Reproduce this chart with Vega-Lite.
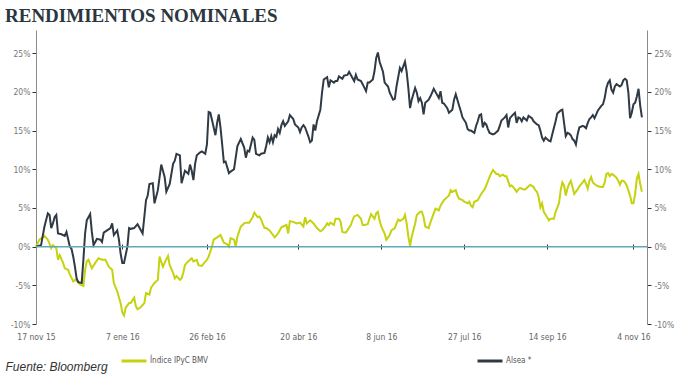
{
"$schema": "https://vega.github.io/schema/vega-lite/v6.json",
"width": 611, "height": 294,
"autosize": "none",
"padding": {"left": 36, "top": 30, "right": 30, "bottom": 51},
"background": "white",
"config": {"view": {"stroke": null}, "font": "Liberation Sans"},
"title": {"text": "RENDIMIENTOS NOMINALES", "anchor": "start", "frame": "group", "font": "Liberation Serif", "fontSize": 19, "fontWeight": "bold", "color": "#2b3640", "dx": -31, "dy": 19, "offset": 8, "baseline": "alphabetic"},
"layer": [
{
"data": {"values": [
{"fecha":"2015-11-17","serie":"Índice IPyC BMV","valor":0.0},
{"fecha":"2015-11-19","serie":"Índice IPyC BMV","valor":0.9},
{"fecha":"2015-11-22","serie":"Índice IPyC BMV","valor":1.4},
{"fecha":"2015-11-24","serie":"Índice IPyC BMV","valor":0.9},
{"fecha":"2015-11-26","serie":"Índice IPyC BMV","valor":-0.2},
{"fecha":"2015-11-27","serie":"Índice IPyC BMV","valor":0.2},
{"fecha":"2015-11-29","serie":"Índice IPyC BMV","valor":-0.2},
{"fecha":"2015-11-30","serie":"Índice IPyC BMV","valor":-1.7},
{"fecha":"2015-12-01","serie":"Índice IPyC BMV","valor":-1.1},
{"fecha":"2015-12-03","serie":"Índice IPyC BMV","valor":-2.1},
{"fecha":"2015-12-04","serie":"Índice IPyC BMV","valor":-2.8},
{"fecha":"2015-12-06","serie":"Índice IPyC BMV","valor":-3.0},
{"fecha":"2015-12-07","serie":"Índice IPyC BMV","valor":-3.6},
{"fecha":"2015-12-09","serie":"Índice IPyC BMV","valor":-4.5},
{"fecha":"2015-12-10","serie":"Índice IPyC BMV","valor":-4.3},
{"fecha":"2015-12-11","serie":"Índice IPyC BMV","valor":-4.4},
{"fecha":"2015-12-13","serie":"Índice IPyC BMV","valor":-4.9},
{"fecha":"2015-12-15","serie":"Índice IPyC BMV","valor":-5.1},
{"fecha":"2015-12-16","serie":"Índice IPyC BMV","valor":-3.0},
{"fecha":"2015-12-17","serie":"Índice IPyC BMV","valor":-1.9},
{"fecha":"2015-12-18","serie":"Índice IPyC BMV","valor":-1.7},
{"fecha":"2015-12-20","serie":"Índice IPyC BMV","valor":-2.8},
{"fecha":"2015-12-22","serie":"Índice IPyC BMV","valor":-2.1},
{"fecha":"2015-12-24","serie":"Índice IPyC BMV","valor":-1.5},
{"fecha":"2015-12-26","serie":"Índice IPyC BMV","valor":-1.7},
{"fecha":"2015-12-28","serie":"Índice IPyC BMV","valor":-1.7},
{"fecha":"2015-12-30","serie":"Índice IPyC BMV","valor":-2.6},
{"fecha":"2016-01-01","serie":"Índice IPyC BMV","valor":-3.0},
{"fecha":"2016-01-02","serie":"Índice IPyC BMV","valor":-4.7},
{"fecha":"2016-01-04","serie":"Índice IPyC BMV","valor":-5.8},
{"fecha":"2016-01-06","serie":"Índice IPyC BMV","valor":-7.3},
{"fecha":"2016-01-07","serie":"Índice IPyC BMV","valor":-8.5},
{"fecha":"2016-01-08","serie":"Índice IPyC BMV","valor":-8.9},
{"fecha":"2016-01-09","serie":"Índice IPyC BMV","valor":-7.9},
{"fecha":"2016-01-11","serie":"Índice IPyC BMV","valor":-7.3},
{"fecha":"2016-01-12","serie":"Índice IPyC BMV","valor":-7.3},
{"fecha":"2016-01-14","serie":"Índice IPyC BMV","valor":-6.6},
{"fecha":"2016-01-15","serie":"Índice IPyC BMV","valor":-7.7},
{"fecha":"2016-01-16","serie":"Índice IPyC BMV","valor":-8.1},
{"fecha":"2016-01-18","serie":"Índice IPyC BMV","valor":-7.8},
{"fecha":"2016-01-20","serie":"Índice IPyC BMV","valor":-7.3},
{"fecha":"2016-01-21","serie":"Índice IPyC BMV","valor":-6.0},
{"fecha":"2016-01-23","serie":"Índice IPyC BMV","valor":-6.2},
{"fecha":"2016-01-24","serie":"Índice IPyC BMV","valor":-5.3},
{"fecha":"2016-01-26","serie":"Índice IPyC BMV","valor":-4.7},
{"fecha":"2016-01-28","serie":"Índice IPyC BMV","valor":-4.3},
{"fecha":"2016-01-29","serie":"Índice IPyC BMV","valor":-1.3},
{"fecha":"2016-01-31","serie":"Índice IPyC BMV","valor":-2.6},
{"fecha":"2016-02-01","serie":"Índice IPyC BMV","valor":-2.1},
{"fecha":"2016-02-03","serie":"Índice IPyC BMV","valor":-1.2},
{"fecha":"2016-02-04","serie":"Índice IPyC BMV","valor":-2.4},
{"fecha":"2016-02-06","serie":"Índice IPyC BMV","valor":-3.4},
{"fecha":"2016-02-07","serie":"Índice IPyC BMV","valor":-4.1},
{"fecha":"2016-02-08","serie":"Índice IPyC BMV","valor":-3.8},
{"fecha":"2016-02-10","serie":"Índice IPyC BMV","valor":-4.3},
{"fecha":"2016-02-11","serie":"Índice IPyC BMV","valor":-4.1},
{"fecha":"2016-02-12","serie":"Índice IPyC BMV","valor":-3.4},
{"fecha":"2016-02-13","serie":"Índice IPyC BMV","valor":-2.4},
{"fecha":"2016-02-14","serie":"Índice IPyC BMV","valor":-2.1},
{"fecha":"2016-02-16","serie":"Índice IPyC BMV","valor":-1.7},
{"fecha":"2016-02-17","serie":"Índice IPyC BMV","valor":-1.5},
{"fecha":"2016-02-18","serie":"Índice IPyC BMV","valor":-1.9},
{"fecha":"2016-02-20","serie":"Índice IPyC BMV","valor":-1.7},
{"fecha":"2016-02-21","serie":"Índice IPyC BMV","valor":-2.4},
{"fecha":"2016-02-23","serie":"Índice IPyC BMV","valor":-2.5},
{"fecha":"2016-02-24","serie":"Índice IPyC BMV","valor":-2.2},
{"fecha":"2016-02-26","serie":"Índice IPyC BMV","valor":-1.7},
{"fecha":"2016-02-27","serie":"Índice IPyC BMV","valor":-1.3},
{"fecha":"2016-02-29","serie":"Índice IPyC BMV","valor":0.0},
{"fecha":"2016-03-01","serie":"Índice IPyC BMV","valor":0.9},
{"fecha":"2016-03-03","serie":"Índice IPyC BMV","valor":1.2},
{"fecha":"2016-03-05","serie":"Índice IPyC BMV","valor":1.5},
{"fecha":"2016-03-07","serie":"Índice IPyC BMV","valor":0.5},
{"fecha":"2016-03-09","serie":"Índice IPyC BMV","valor":0.3},
{"fecha":"2016-03-10","serie":"Índice IPyC BMV","valor":0.0},
{"fecha":"2016-03-11","serie":"Índice IPyC BMV","valor":1.1},
{"fecha":"2016-03-13","serie":"Índice IPyC BMV","valor":0.9},
{"fecha":"2016-03-14","serie":"Índice IPyC BMV","valor":0.0},
{"fecha":"2016-03-15","serie":"Índice IPyC BMV","valor":1.3},
{"fecha":"2016-03-17","serie":"Índice IPyC BMV","valor":2.6},
{"fecha":"2016-03-19","serie":"Índice IPyC BMV","valor":3.0},
{"fecha":"2016-03-20","serie":"Índice IPyC BMV","valor":3.1},
{"fecha":"2016-03-22","serie":"Índice IPyC BMV","valor":3.1},
{"fecha":"2016-03-24","serie":"Índice IPyC BMV","valor":3.8},
{"fecha":"2016-03-25","serie":"Índice IPyC BMV","valor":4.4},
{"fecha":"2016-03-27","serie":"Índice IPyC BMV","valor":3.8},
{"fecha":"2016-03-28","serie":"Índice IPyC BMV","valor":3.9},
{"fecha":"2016-03-29","serie":"Índice IPyC BMV","valor":3.5},
{"fecha":"2016-03-31","serie":"Índice IPyC BMV","valor":2.4},
{"fecha":"2016-04-01","serie":"Índice IPyC BMV","valor":2.4},
{"fecha":"2016-04-03","serie":"Índice IPyC BMV","valor":2.1},
{"fecha":"2016-04-05","serie":"Índice IPyC BMV","valor":1.5},
{"fecha":"2016-04-06","serie":"Índice IPyC BMV","valor":1.2},
{"fecha":"2016-04-08","serie":"Índice IPyC BMV","valor":1.7},
{"fecha":"2016-04-10","serie":"Índice IPyC BMV","valor":2.5},
{"fecha":"2016-04-11","serie":"Índice IPyC BMV","valor":2.6},
{"fecha":"2016-04-13","serie":"Índice IPyC BMV","valor":2.8},
{"fecha":"2016-04-14","serie":"Índice IPyC BMV","valor":1.7},
{"fecha":"2016-04-15","serie":"Índice IPyC BMV","valor":3.3},
{"fecha":"2016-04-17","serie":"Índice IPyC BMV","valor":3.2},
{"fecha":"2016-04-19","serie":"Índice IPyC BMV","valor":3.0},
{"fecha":"2016-04-21","serie":"Índice IPyC BMV","valor":3.1},
{"fecha":"2016-04-23","serie":"Índice IPyC BMV","valor":2.6},
{"fecha":"2016-04-24","serie":"Índice IPyC BMV","valor":3.8},
{"fecha":"2016-04-25","serie":"Índice IPyC BMV","valor":3.0},
{"fecha":"2016-04-26","serie":"Índice IPyC BMV","valor":3.2},
{"fecha":"2016-04-27","serie":"Índice IPyC BMV","valor":3.4},
{"fecha":"2016-04-29","serie":"Índice IPyC BMV","valor":3.0},
{"fecha":"2016-05-01","serie":"Índice IPyC BMV","valor":2.4},
{"fecha":"2016-05-03","serie":"Índice IPyC BMV","valor":2.0},
{"fecha":"2016-05-04","serie":"Índice IPyC BMV","valor":2.1},
{"fecha":"2016-05-06","serie":"Índice IPyC BMV","valor":2.6},
{"fecha":"2016-05-07","serie":"Índice IPyC BMV","valor":3.0},
{"fecha":"2016-05-08","serie":"Índice IPyC BMV","valor":2.8},
{"fecha":"2016-05-09","serie":"Índice IPyC BMV","valor":3.1},
{"fecha":"2016-05-11","serie":"Índice IPyC BMV","valor":2.8},
{"fecha":"2016-05-12","serie":"Índice IPyC BMV","valor":3.6},
{"fecha":"2016-05-14","serie":"Índice IPyC BMV","valor":3.6},
{"fecha":"2016-05-15","serie":"Índice IPyC BMV","valor":3.2},
{"fecha":"2016-05-16","serie":"Índice IPyC BMV","valor":1.9},
{"fecha":"2016-05-18","serie":"Índice IPyC BMV","valor":1.8},
{"fecha":"2016-05-19","serie":"Índice IPyC BMV","valor":2.1},
{"fecha":"2016-05-21","serie":"Índice IPyC BMV","valor":2.8},
{"fecha":"2016-05-22","serie":"Índice IPyC BMV","valor":3.4},
{"fecha":"2016-05-23","serie":"Índice IPyC BMV","valor":3.9},
{"fecha":"2016-05-25","serie":"Índice IPyC BMV","valor":4.1},
{"fecha":"2016-05-27","serie":"Índice IPyC BMV","valor":3.6},
{"fecha":"2016-05-28","serie":"Índice IPyC BMV","valor":2.8},
{"fecha":"2016-05-29","serie":"Índice IPyC BMV","valor":2.8},
{"fecha":"2016-05-31","serie":"Índice IPyC BMV","valor":2.9},
{"fecha":"2016-06-01","serie":"Índice IPyC BMV","valor":3.6},
{"fecha":"2016-06-02","serie":"Índice IPyC BMV","valor":4.2},
{"fecha":"2016-06-04","serie":"Índice IPyC BMV","valor":3.6},
{"fecha":"2016-06-05","serie":"Índice IPyC BMV","valor":4.3},
{"fecha":"2016-06-06","serie":"Índice IPyC BMV","valor":4.5},
{"fecha":"2016-06-07","serie":"Índice IPyC BMV","valor":3.4},
{"fecha":"2016-06-08","serie":"Índice IPyC BMV","valor":2.6},
{"fecha":"2016-06-10","serie":"Índice IPyC BMV","valor":1.7},
{"fecha":"2016-06-11","serie":"Índice IPyC BMV","valor":0.9},
{"fecha":"2016-06-13","serie":"Índice IPyC BMV","valor":1.5},
{"fecha":"2016-06-14","serie":"Índice IPyC BMV","valor":2.1},
{"fecha":"2016-06-16","serie":"Índice IPyC BMV","valor":2.4},
{"fecha":"2016-06-17","serie":"Índice IPyC BMV","valor":3.0},
{"fecha":"2016-06-18","serie":"Índice IPyC BMV","valor":3.5},
{"fecha":"2016-06-19","serie":"Índice IPyC BMV","valor":3.3},
{"fecha":"2016-06-21","serie":"Índice IPyC BMV","valor":3.6},
{"fecha":"2016-06-22","serie":"Índice IPyC BMV","valor":4.1},
{"fecha":"2016-06-23","serie":"Índice IPyC BMV","valor":3.0},
{"fecha":"2016-06-24","serie":"Índice IPyC BMV","valor":1.3},
{"fecha":"2016-06-25","serie":"Índice IPyC BMV","valor":0.1},
{"fecha":"2016-06-26","serie":"Índice IPyC BMV","valor":1.3},
{"fecha":"2016-06-28","serie":"Índice IPyC BMV","valor":3.0},
{"fecha":"2016-06-29","serie":"Índice IPyC BMV","valor":4.1},
{"fecha":"2016-07-01","serie":"Índice IPyC BMV","valor":4.5},
{"fecha":"2016-07-02","serie":"Índice IPyC BMV","valor":4.5},
{"fecha":"2016-07-03","serie":"Índice IPyC BMV","valor":3.8},
{"fecha":"2016-07-04","serie":"Índice IPyC BMV","valor":2.6},
{"fecha":"2016-07-06","serie":"Índice IPyC BMV","valor":2.4},
{"fecha":"2016-07-07","serie":"Índice IPyC BMV","valor":3.1},
{"fecha":"2016-07-09","serie":"Índice IPyC BMV","valor":4.3},
{"fecha":"2016-07-10","serie":"Índice IPyC BMV","valor":4.9},
{"fecha":"2016-07-12","serie":"Índice IPyC BMV","valor":4.7},
{"fecha":"2016-07-13","serie":"Índice IPyC BMV","valor":5.3},
{"fecha":"2016-07-15","serie":"Índice IPyC BMV","valor":6.0},
{"fecha":"2016-07-17","serie":"Índice IPyC BMV","valor":6.4},
{"fecha":"2016-07-18","serie":"Índice IPyC BMV","valor":6.6},
{"fecha":"2016-07-19","serie":"Índice IPyC BMV","valor":7.3},
{"fecha":"2016-07-20","serie":"Índice IPyC BMV","valor":7.1},
{"fecha":"2016-07-22","serie":"Índice IPyC BMV","valor":7.3},
{"fecha":"2016-07-23","serie":"Índice IPyC BMV","valor":6.6},
{"fecha":"2016-07-24","serie":"Índice IPyC BMV","valor":6.2},
{"fecha":"2016-07-26","serie":"Índice IPyC BMV","valor":6.0},
{"fecha":"2016-07-27","serie":"Índice IPyC BMV","valor":5.8},
{"fecha":"2016-07-29","serie":"Índice IPyC BMV","valor":5.6},
{"fecha":"2016-07-30","serie":"Índice IPyC BMV","valor":5.8},
{"fecha":"2016-07-31","serie":"Índice IPyC BMV","valor":5.3},
{"fecha":"2016-08-01","serie":"Índice IPyC BMV","valor":5.1},
{"fecha":"2016-08-02","serie":"Índice IPyC BMV","valor":5.8},
{"fecha":"2016-08-04","serie":"Índice IPyC BMV","valor":6.0},
{"fecha":"2016-08-05","serie":"Índice IPyC BMV","valor":6.4},
{"fecha":"2016-08-06","serie":"Índice IPyC BMV","valor":6.8},
{"fecha":"2016-08-08","serie":"Índice IPyC BMV","valor":7.4},
{"fecha":"2016-08-09","serie":"Índice IPyC BMV","valor":7.9},
{"fecha":"2016-08-11","serie":"Índice IPyC BMV","valor":9.0},
{"fecha":"2016-08-12","serie":"Índice IPyC BMV","valor":9.5},
{"fecha":"2016-08-13","serie":"Índice IPyC BMV","valor":9.9},
{"fecha":"2016-08-15","serie":"Índice IPyC BMV","valor":9.4},
{"fecha":"2016-08-16","serie":"Índice IPyC BMV","valor":9.4},
{"fecha":"2016-08-17","serie":"Índice IPyC BMV","valor":9.1},
{"fecha":"2016-08-19","serie":"Índice IPyC BMV","valor":9.3},
{"fecha":"2016-08-20","serie":"Índice IPyC BMV","valor":9.1},
{"fecha":"2016-08-21","serie":"Índice IPyC BMV","valor":9.1},
{"fecha":"2016-08-23","serie":"Índice IPyC BMV","valor":7.8},
{"fecha":"2016-08-24","serie":"Índice IPyC BMV","valor":7.9},
{"fecha":"2016-08-25","serie":"Índice IPyC BMV","valor":7.7},
{"fecha":"2016-08-27","serie":"Índice IPyC BMV","valor":7.1},
{"fecha":"2016-08-28","serie":"Índice IPyC BMV","valor":7.4},
{"fecha":"2016-08-29","serie":"Índice IPyC BMV","valor":7.6},
{"fecha":"2016-08-31","serie":"Índice IPyC BMV","valor":7.4},
{"fecha":"2016-09-01","serie":"Índice IPyC BMV","valor":7.4},
{"fecha":"2016-09-03","serie":"Índice IPyC BMV","valor":7.8},
{"fecha":"2016-09-04","serie":"Índice IPyC BMV","valor":8.0},
{"fecha":"2016-09-06","serie":"Índice IPyC BMV","valor":7.7},
{"fecha":"2016-09-07","serie":"Índice IPyC BMV","valor":7.3},
{"fecha":"2016-09-08","serie":"Índice IPyC BMV","valor":7.1},
{"fecha":"2016-09-09","serie":"Índice IPyC BMV","valor":6.4},
{"fecha":"2016-09-10","serie":"Índice IPyC BMV","valor":5.1},
{"fecha":"2016-09-11","serie":"Índice IPyC BMV","valor":5.6},
{"fecha":"2016-09-12","serie":"Índice IPyC BMV","valor":4.5},
{"fecha":"2016-09-14","serie":"Índice IPyC BMV","valor":3.8},
{"fecha":"2016-09-15","serie":"Índice IPyC BMV","valor":3.4},
{"fecha":"2016-09-16","serie":"Índice IPyC BMV","valor":3.6},
{"fecha":"2016-09-18","serie":"Índice IPyC BMV","valor":3.6},
{"fecha":"2016-09-19","serie":"Índice IPyC BMV","valor":4.5},
{"fecha":"2016-09-21","serie":"Índice IPyC BMV","valor":5.6},
{"fecha":"2016-09-22","serie":"Índice IPyC BMV","valor":7.3},
{"fecha":"2016-09-23","serie":"Índice IPyC BMV","valor":8.3},
{"fecha":"2016-09-24","serie":"Índice IPyC BMV","valor":7.9},
{"fecha":"2016-09-25","serie":"Índice IPyC BMV","valor":6.6},
{"fecha":"2016-09-26","serie":"Índice IPyC BMV","valor":7.5},
{"fecha":"2016-09-27","serie":"Índice IPyC BMV","valor":8.1},
{"fecha":"2016-09-28","serie":"Índice IPyC BMV","valor":8.5},
{"fecha":"2016-09-29","serie":"Índice IPyC BMV","valor":7.7},
{"fecha":"2016-09-30","serie":"Índice IPyC BMV","valor":6.8},
{"fecha":"2016-10-02","serie":"Índice IPyC BMV","valor":7.4},
{"fecha":"2016-10-03","serie":"Índice IPyC BMV","valor":7.8},
{"fecha":"2016-10-05","serie":"Índice IPyC BMV","valor":8.3},
{"fecha":"2016-10-06","serie":"Índice IPyC BMV","valor":8.6},
{"fecha":"2016-10-07","serie":"Índice IPyC BMV","valor":8.1},
{"fecha":"2016-10-08","serie":"Índice IPyC BMV","valor":7.5},
{"fecha":"2016-10-09","serie":"Índice IPyC BMV","valor":8.5},
{"fecha":"2016-10-10","serie":"Índice IPyC BMV","valor":9.0},
{"fecha":"2016-10-11","serie":"Índice IPyC BMV","valor":8.3},
{"fecha":"2016-10-12","serie":"Índice IPyC BMV","valor":8.1},
{"fecha":"2016-10-14","serie":"Índice IPyC BMV","valor":7.8},
{"fecha":"2016-10-16","serie":"Índice IPyC BMV","valor":7.7},
{"fecha":"2016-10-17","serie":"Índice IPyC BMV","valor":7.7},
{"fecha":"2016-10-18","serie":"Índice IPyC BMV","valor":8.3},
{"fecha":"2016-10-19","serie":"Índice IPyC BMV","valor":9.4},
{"fecha":"2016-10-20","serie":"Índice IPyC BMV","valor":9.5},
{"fecha":"2016-10-21","serie":"Índice IPyC BMV","valor":9.1},
{"fecha":"2016-10-22","serie":"Índice IPyC BMV","valor":9.4},
{"fecha":"2016-10-23","serie":"Índice IPyC BMV","valor":9.3},
{"fecha":"2016-10-25","serie":"Índice IPyC BMV","valor":8.9},
{"fecha":"2016-10-26","serie":"Índice IPyC BMV","valor":8.5},
{"fecha":"2016-10-27","serie":"Índice IPyC BMV","valor":8.0},
{"fecha":"2016-10-28","serie":"Índice IPyC BMV","valor":8.5},
{"fecha":"2016-10-29","serie":"Índice IPyC BMV","valor":8.5},
{"fecha":"2016-10-30","serie":"Índice IPyC BMV","valor":8.3},
{"fecha":"2016-10-31","serie":"Índice IPyC BMV","valor":7.9},
{"fecha":"2016-11-02","serie":"Índice IPyC BMV","valor":6.6},
{"fecha":"2016-11-03","serie":"Índice IPyC BMV","valor":5.6},
{"fecha":"2016-11-04","serie":"Índice IPyC BMV","valor":5.6},
{"fecha":"2016-11-05","serie":"Índice IPyC BMV","valor":6.8},
{"fecha":"2016-11-06","serie":"Índice IPyC BMV","valor":8.8},
{"fecha":"2016-11-07","serie":"Índice IPyC BMV","valor":9.4},
{"fecha":"2016-11-08","serie":"Índice IPyC BMV","valor":8.1},
{"fecha":"2016-11-09","serie":"Índice IPyC BMV","valor":7.1},
{"fecha":"2015-11-17","serie":"Alsea *","valor":0.0},
{"fecha":"2015-11-20","serie":"Alsea *","valor":0.2},
{"fecha":"2015-11-22","serie":"Alsea *","valor":2.6},
{"fecha":"2015-11-24","serie":"Alsea *","valor":4.3},
{"fecha":"2015-11-25","serie":"Alsea *","valor":4.1},
{"fecha":"2015-11-26","serie":"Alsea *","valor":2.4},
{"fecha":"2015-11-27","serie":"Alsea *","valor":3.0},
{"fecha":"2015-11-28","serie":"Alsea *","valor":3.8},
{"fecha":"2015-11-29","serie":"Alsea *","valor":4.1},
{"fecha":"2015-11-30","serie":"Alsea *","valor":1.7},
{"fecha":"2015-12-02","serie":"Alsea *","valor":1.6},
{"fecha":"2015-12-04","serie":"Alsea *","valor":1.4},
{"fecha":"2015-12-05","serie":"Alsea *","valor":1.9},
{"fecha":"2015-12-07","serie":"Alsea *","valor":0.0},
{"fecha":"2015-12-08","serie":"Alsea *","valor":-0.3},
{"fecha":"2015-12-09","serie":"Alsea *","valor":-1.3},
{"fecha":"2015-12-10","serie":"Alsea *","valor":-2.6},
{"fecha":"2015-12-11","serie":"Alsea *","valor":-4.1},
{"fecha":"2015-12-12","serie":"Alsea *","valor":-4.6},
{"fecha":"2015-12-14","serie":"Alsea *","valor":-4.7},
{"fecha":"2015-12-15","serie":"Alsea *","valor":-1.7},
{"fecha":"2015-12-16","serie":"Alsea *","valor":1.7},
{"fecha":"2015-12-17","serie":"Alsea *","valor":3.4},
{"fecha":"2015-12-19","serie":"Alsea *","valor":4.2},
{"fecha":"2015-12-20","serie":"Alsea *","valor":1.9},
{"fecha":"2015-12-21","serie":"Alsea *","valor":0.2},
{"fecha":"2015-12-22","serie":"Alsea *","valor":0.6},
{"fecha":"2015-12-23","serie":"Alsea *","valor":1.0},
{"fecha":"2015-12-25","serie":"Alsea *","valor":0.9},
{"fecha":"2015-12-26","serie":"Alsea *","valor":0.6},
{"fecha":"2015-12-27","serie":"Alsea *","valor":1.8},
{"fecha":"2015-12-29","serie":"Alsea *","valor":2.1},
{"fecha":"2015-12-31","serie":"Alsea *","valor":2.4},
{"fecha":"2016-01-01","serie":"Alsea *","valor":3.0},
{"fecha":"2016-01-02","serie":"Alsea *","valor":1.5},
{"fecha":"2016-01-04","serie":"Alsea *","valor":2.1},
{"fecha":"2016-01-05","serie":"Alsea *","valor":0.9},
{"fecha":"2016-01-06","serie":"Alsea *","valor":-0.9},
{"fecha":"2016-01-07","serie":"Alsea *","valor":-2.1},
{"fecha":"2016-01-08","serie":"Alsea *","valor":-2.1},
{"fecha":"2016-01-10","serie":"Alsea *","valor":0.0},
{"fecha":"2016-01-11","serie":"Alsea *","valor":2.4},
{"fecha":"2016-01-12","serie":"Alsea *","valor":2.3},
{"fecha":"2016-01-14","serie":"Alsea *","valor":2.4},
{"fecha":"2016-01-16","serie":"Alsea *","valor":2.9},
{"fecha":"2016-01-17","serie":"Alsea *","valor":2.5},
{"fecha":"2016-01-19","serie":"Alsea *","valor":1.7},
{"fecha":"2016-01-21","serie":"Alsea *","valor":6.0},
{"fecha":"2016-01-22","serie":"Alsea *","valor":6.6},
{"fecha":"2016-01-23","serie":"Alsea *","valor":8.1},
{"fecha":"2016-01-25","serie":"Alsea *","valor":8.2},
{"fecha":"2016-01-26","serie":"Alsea *","valor":5.6},
{"fecha":"2016-01-28","serie":"Alsea *","valor":7.3},
{"fecha":"2016-01-30","serie":"Alsea *","valor":10.6},
{"fecha":"2016-01-31","serie":"Alsea *","valor":9.8},
{"fecha":"2016-02-01","serie":"Alsea *","valor":9.0},
{"fecha":"2016-02-02","serie":"Alsea *","valor":7.1},
{"fecha":"2016-02-04","serie":"Alsea *","valor":8.1},
{"fecha":"2016-02-06","serie":"Alsea *","valor":10.7},
{"fecha":"2016-02-07","serie":"Alsea *","valor":11.1},
{"fecha":"2016-02-08","serie":"Alsea *","valor":12.0},
{"fecha":"2016-02-10","serie":"Alsea *","valor":11.8},
{"fecha":"2016-02-11","serie":"Alsea *","valor":8.2},
{"fecha":"2016-02-13","serie":"Alsea *","valor":9.8},
{"fecha":"2016-02-14","serie":"Alsea *","valor":9.6},
{"fecha":"2016-02-15","serie":"Alsea *","valor":9.4},
{"fecha":"2016-02-16","serie":"Alsea *","valor":10.6},
{"fecha":"2016-02-17","serie":"Alsea *","valor":9.8},
{"fecha":"2016-02-18","serie":"Alsea *","valor":8.6},
{"fecha":"2016-02-19","serie":"Alsea *","valor":10.7},
{"fecha":"2016-02-20","serie":"Alsea *","valor":11.8},
{"fecha":"2016-02-22","serie":"Alsea *","valor":12.2},
{"fecha":"2016-02-23","serie":"Alsea *","valor":12.3},
{"fecha":"2016-02-25","serie":"Alsea *","valor":12.0},
{"fecha":"2016-02-26","serie":"Alsea *","valor":13.2},
{"fecha":"2016-02-27","serie":"Alsea *","valor":17.4},
{"fecha":"2016-02-28","serie":"Alsea *","valor":17.3},
{"fecha":"2016-03-01","serie":"Alsea *","valor":15.4},
{"fecha":"2016-03-02","serie":"Alsea *","valor":14.4},
{"fecha":"2016-03-03","serie":"Alsea *","valor":16.0},
{"fecha":"2016-03-04","serie":"Alsea *","valor":17.1},
{"fecha":"2016-03-05","serie":"Alsea *","valor":15.4},
{"fecha":"2016-03-06","serie":"Alsea *","valor":13.2},
{"fecha":"2016-03-07","serie":"Alsea *","valor":10.9},
{"fecha":"2016-03-08","serie":"Alsea *","valor":11.0},
{"fecha":"2016-03-10","serie":"Alsea *","valor":9.5},
{"fecha":"2016-03-11","serie":"Alsea *","valor":9.7},
{"fecha":"2016-03-13","serie":"Alsea *","valor":10.0},
{"fecha":"2016-03-14","serie":"Alsea *","valor":11.5},
{"fecha":"2016-03-15","serie":"Alsea *","valor":13.0},
{"fecha":"2016-03-17","serie":"Alsea *","valor":13.9},
{"fecha":"2016-03-19","serie":"Alsea *","valor":12.8},
{"fecha":"2016-03-20","serie":"Alsea *","valor":11.5},
{"fecha":"2016-03-21","serie":"Alsea *","valor":12.4},
{"fecha":"2016-03-22","serie":"Alsea *","valor":12.3},
{"fecha":"2016-03-24","serie":"Alsea *","valor":14.1},
{"fecha":"2016-03-25","serie":"Alsea *","valor":13.8},
{"fecha":"2016-03-26","serie":"Alsea *","valor":12.0},
{"fecha":"2016-03-28","serie":"Alsea *","valor":11.8},
{"fecha":"2016-03-29","serie":"Alsea *","valor":12.0},
{"fecha":"2016-03-31","serie":"Alsea *","valor":12.1},
{"fecha":"2016-04-01","serie":"Alsea *","valor":13.0},
{"fecha":"2016-04-02","serie":"Alsea *","valor":14.1},
{"fecha":"2016-04-03","serie":"Alsea *","valor":13.5},
{"fecha":"2016-04-04","serie":"Alsea *","valor":14.3},
{"fecha":"2016-04-05","serie":"Alsea *","valor":13.5},
{"fecha":"2016-04-06","serie":"Alsea *","valor":14.4},
{"fecha":"2016-04-07","serie":"Alsea *","valor":14.2},
{"fecha":"2016-04-08","serie":"Alsea *","valor":15.2},
{"fecha":"2016-04-09","serie":"Alsea *","valor":14.7},
{"fecha":"2016-04-10","serie":"Alsea *","valor":15.7},
{"fecha":"2016-04-11","serie":"Alsea *","valor":16.2},
{"fecha":"2016-04-12","serie":"Alsea *","valor":15.6},
{"fecha":"2016-04-14","serie":"Alsea *","valor":16.2},
{"fecha":"2016-04-15","serie":"Alsea *","valor":17.0},
{"fecha":"2016-04-17","serie":"Alsea *","valor":16.5},
{"fecha":"2016-04-18","serie":"Alsea *","valor":15.8},
{"fecha":"2016-04-20","serie":"Alsea *","valor":15.4},
{"fecha":"2016-04-21","serie":"Alsea *","valor":14.8},
{"fecha":"2016-04-22","serie":"Alsea *","valor":15.4},
{"fecha":"2016-04-23","serie":"Alsea *","valor":15.7},
{"fecha":"2016-04-24","serie":"Alsea *","valor":15.4},
{"fecha":"2016-04-26","serie":"Alsea *","valor":14.2},
{"fecha":"2016-04-27","serie":"Alsea *","valor":13.5},
{"fecha":"2016-04-28","serie":"Alsea *","valor":13.7},
{"fecha":"2016-04-29","serie":"Alsea *","valor":15.8},
{"fecha":"2016-04-30","serie":"Alsea *","valor":15.0},
{"fecha":"2016-05-01","serie":"Alsea *","valor":16.2},
{"fecha":"2016-05-03","serie":"Alsea *","valor":17.7},
{"fecha":"2016-05-04","serie":"Alsea *","valor":19.9},
{"fecha":"2016-05-05","serie":"Alsea *","valor":21.6},
{"fecha":"2016-05-07","serie":"Alsea *","valor":21.9},
{"fecha":"2016-05-08","serie":"Alsea *","valor":20.6},
{"fecha":"2016-05-09","serie":"Alsea *","valor":21.5},
{"fecha":"2016-05-11","serie":"Alsea *","valor":21.2},
{"fecha":"2016-05-12","serie":"Alsea *","valor":21.4},
{"fecha":"2016-05-13","serie":"Alsea *","valor":21.4},
{"fecha":"2016-05-14","serie":"Alsea *","valor":22.0},
{"fecha":"2016-05-16","serie":"Alsea *","valor":21.7},
{"fecha":"2016-05-17","serie":"Alsea *","valor":22.1},
{"fecha":"2016-05-19","serie":"Alsea *","valor":22.2},
{"fecha":"2016-05-20","serie":"Alsea *","valor":22.6},
{"fecha":"2016-05-22","serie":"Alsea *","valor":21.8},
{"fecha":"2016-05-23","serie":"Alsea *","valor":21.4},
{"fecha":"2016-05-24","serie":"Alsea *","valor":22.2},
{"fecha":"2016-05-25","serie":"Alsea *","valor":21.6},
{"fecha":"2016-05-27","serie":"Alsea *","valor":21.4},
{"fecha":"2016-05-28","serie":"Alsea *","valor":21.0},
{"fecha":"2016-05-30","serie":"Alsea *","valor":20.1},
{"fecha":"2016-05-31","serie":"Alsea *","valor":21.2},
{"fecha":"2016-06-01","serie":"Alsea *","valor":21.2},
{"fecha":"2016-06-03","serie":"Alsea *","valor":21.6},
{"fecha":"2016-06-04","serie":"Alsea *","valor":22.7},
{"fecha":"2016-06-05","serie":"Alsea *","valor":24.4},
{"fecha":"2016-06-06","serie":"Alsea *","valor":25.1},
{"fecha":"2016-06-07","serie":"Alsea *","valor":23.9},
{"fecha":"2016-06-09","serie":"Alsea *","valor":22.6},
{"fecha":"2016-06-10","serie":"Alsea *","valor":21.2},
{"fecha":"2016-06-12","serie":"Alsea *","valor":20.7},
{"fecha":"2016-06-13","serie":"Alsea *","valor":19.9},
{"fecha":"2016-06-15","serie":"Alsea *","valor":19.0},
{"fecha":"2016-06-16","serie":"Alsea *","valor":19.1},
{"fecha":"2016-06-17","serie":"Alsea *","valor":20.7},
{"fecha":"2016-06-19","serie":"Alsea *","valor":23.1},
{"fecha":"2016-06-20","serie":"Alsea *","valor":22.7},
{"fecha":"2016-06-21","serie":"Alsea *","valor":23.3},
{"fecha":"2016-06-22","serie":"Alsea *","valor":23.9},
{"fecha":"2016-06-23","serie":"Alsea *","valor":22.6},
{"fecha":"2016-06-24","serie":"Alsea *","valor":20.5},
{"fecha":"2016-06-25","serie":"Alsea *","valor":17.9},
{"fecha":"2016-06-26","serie":"Alsea *","valor":19.0},
{"fecha":"2016-06-28","serie":"Alsea *","valor":20.5},
{"fecha":"2016-06-29","serie":"Alsea *","valor":19.9},
{"fecha":"2016-06-30","serie":"Alsea *","valor":18.8},
{"fecha":"2016-07-01","serie":"Alsea *","valor":19.2},
{"fecha":"2016-07-02","serie":"Alsea *","valor":18.6},
{"fecha":"2016-07-03","serie":"Alsea *","valor":17.1},
{"fecha":"2016-07-04","serie":"Alsea *","valor":18.6},
{"fecha":"2016-07-06","serie":"Alsea *","valor":19.0},
{"fecha":"2016-07-07","serie":"Alsea *","valor":19.4},
{"fecha":"2016-07-09","serie":"Alsea *","valor":20.4},
{"fecha":"2016-07-10","serie":"Alsea *","valor":20.0},
{"fecha":"2016-07-12","serie":"Alsea *","valor":19.2},
{"fecha":"2016-07-13","serie":"Alsea *","valor":20.1},
{"fecha":"2016-07-14","serie":"Alsea *","valor":18.6},
{"fecha":"2016-07-15","serie":"Alsea *","valor":18.5},
{"fecha":"2016-07-17","serie":"Alsea *","valor":17.9},
{"fecha":"2016-07-18","serie":"Alsea *","valor":17.3},
{"fecha":"2016-07-20","serie":"Alsea *","valor":17.7},
{"fecha":"2016-07-21","serie":"Alsea *","valor":19.0},
{"fecha":"2016-07-22","serie":"Alsea *","valor":19.7},
{"fecha":"2016-07-24","serie":"Alsea *","valor":18.2},
{"fecha":"2016-07-25","serie":"Alsea *","valor":17.5},
{"fecha":"2016-07-26","serie":"Alsea *","valor":16.7},
{"fecha":"2016-07-28","serie":"Alsea *","valor":16.0},
{"fecha":"2016-07-29","serie":"Alsea *","valor":15.2},
{"fecha":"2016-07-30","serie":"Alsea *","valor":15.0},
{"fecha":"2016-07-31","serie":"Alsea *","valor":15.0},
{"fecha":"2016-08-02","serie":"Alsea *","valor":14.7},
{"fecha":"2016-08-03","serie":"Alsea *","valor":15.6},
{"fecha":"2016-08-04","serie":"Alsea *","valor":16.2},
{"fecha":"2016-08-05","serie":"Alsea *","valor":17.0},
{"fecha":"2016-08-06","serie":"Alsea *","valor":17.1},
{"fecha":"2016-08-07","serie":"Alsea *","valor":15.4},
{"fecha":"2016-08-08","serie":"Alsea *","valor":16.0},
{"fecha":"2016-08-09","serie":"Alsea *","valor":15.8},
{"fecha":"2016-08-10","serie":"Alsea *","valor":15.2},
{"fecha":"2016-08-11","serie":"Alsea *","valor":14.7},
{"fecha":"2016-08-13","serie":"Alsea *","valor":14.5},
{"fecha":"2016-08-14","serie":"Alsea *","valor":14.6},
{"fecha":"2016-08-16","serie":"Alsea *","valor":15.0},
{"fecha":"2016-08-17","serie":"Alsea *","valor":15.6},
{"fecha":"2016-08-18","serie":"Alsea *","valor":16.3},
{"fecha":"2016-08-20","serie":"Alsea *","valor":16.7},
{"fecha":"2016-08-21","serie":"Alsea *","valor":17.0},
{"fecha":"2016-08-22","serie":"Alsea *","valor":15.4},
{"fecha":"2016-08-23","serie":"Alsea *","valor":16.6},
{"fecha":"2016-08-25","serie":"Alsea *","valor":17.1},
{"fecha":"2016-08-26","serie":"Alsea *","valor":17.3},
{"fecha":"2016-08-27","serie":"Alsea *","valor":16.0},
{"fecha":"2016-08-28","serie":"Alsea *","valor":16.7},
{"fecha":"2016-08-29","serie":"Alsea *","valor":16.6},
{"fecha":"2016-08-30","serie":"Alsea *","valor":16.2},
{"fecha":"2016-08-31","serie":"Alsea *","valor":16.7},
{"fecha":"2016-09-02","serie":"Alsea *","valor":16.3},
{"fecha":"2016-09-03","serie":"Alsea *","valor":16.9},
{"fecha":"2016-09-05","serie":"Alsea *","valor":16.6},
{"fecha":"2016-09-06","serie":"Alsea *","valor":16.2},
{"fecha":"2016-09-08","serie":"Alsea *","valor":15.8},
{"fecha":"2016-09-09","serie":"Alsea *","valor":15.7},
{"fecha":"2016-09-10","serie":"Alsea *","valor":15.0},
{"fecha":"2016-09-11","serie":"Alsea *","valor":14.1},
{"fecha":"2016-09-12","serie":"Alsea *","valor":13.7},
{"fecha":"2016-09-13","serie":"Alsea *","valor":14.1},
{"fecha":"2016-09-15","serie":"Alsea *","valor":13.7},
{"fecha":"2016-09-16","serie":"Alsea *","valor":13.6},
{"fecha":"2016-09-17","serie":"Alsea *","valor":14.5},
{"fecha":"2016-09-19","serie":"Alsea *","valor":16.2},
{"fecha":"2016-09-20","serie":"Alsea *","valor":17.2},
{"fecha":"2016-09-22","serie":"Alsea *","valor":17.6},
{"fecha":"2016-09-23","serie":"Alsea *","valor":17.7},
{"fecha":"2016-09-24","serie":"Alsea *","valor":16.0},
{"fecha":"2016-09-25","serie":"Alsea *","valor":14.3},
{"fecha":"2016-09-26","serie":"Alsea *","valor":14.7},
{"fecha":"2016-09-27","serie":"Alsea *","valor":14.6},
{"fecha":"2016-09-28","serie":"Alsea *","valor":14.4},
{"fecha":"2016-09-29","serie":"Alsea *","valor":13.9},
{"fecha":"2016-09-30","serie":"Alsea *","valor":13.7},
{"fecha":"2016-10-01","serie":"Alsea *","valor":13.2},
{"fecha":"2016-10-02","serie":"Alsea *","valor":14.5},
{"fecha":"2016-10-03","serie":"Alsea *","valor":15.4},
{"fecha":"2016-10-05","serie":"Alsea *","valor":15.6},
{"fecha":"2016-10-06","serie":"Alsea *","valor":15.5},
{"fecha":"2016-10-07","serie":"Alsea *","valor":15.3},
{"fecha":"2016-10-08","serie":"Alsea *","valor":16.0},
{"fecha":"2016-10-09","serie":"Alsea *","valor":16.5},
{"fecha":"2016-10-10","serie":"Alsea *","valor":16.7},
{"fecha":"2016-10-11","serie":"Alsea *","valor":17.0},
{"fecha":"2016-10-12","serie":"Alsea *","valor":16.6},
{"fecha":"2016-10-13","serie":"Alsea *","valor":17.1},
{"fecha":"2016-10-14","serie":"Alsea *","valor":17.6},
{"fecha":"2016-10-16","serie":"Alsea *","valor":18.2},
{"fecha":"2016-10-17","serie":"Alsea *","valor":18.4},
{"fecha":"2016-10-18","serie":"Alsea *","valor":19.2},
{"fecha":"2016-10-19","serie":"Alsea *","valor":20.5},
{"fecha":"2016-10-20","serie":"Alsea *","valor":21.2},
{"fecha":"2016-10-21","serie":"Alsea *","valor":21.5},
{"fecha":"2016-10-22","serie":"Alsea *","valor":20.3},
{"fecha":"2016-10-23","serie":"Alsea *","valor":19.9},
{"fecha":"2016-10-24","serie":"Alsea *","valor":20.7},
{"fecha":"2016-10-25","serie":"Alsea *","valor":21.0},
{"fecha":"2016-10-27","serie":"Alsea *","valor":20.7},
{"fecha":"2016-10-28","serie":"Alsea *","valor":20.9},
{"fecha":"2016-10-29","serie":"Alsea *","valor":21.5},
{"fecha":"2016-10-30","serie":"Alsea *","valor":21.7},
{"fecha":"2016-10-31","serie":"Alsea *","valor":21.5},
{"fecha":"2016-11-01","serie":"Alsea *","valor":19.9},
{"fecha":"2016-11-02","serie":"Alsea *","valor":16.6},
{"fecha":"2016-11-03","serie":"Alsea *","valor":17.3},
{"fecha":"2016-11-04","serie":"Alsea *","valor":18.4},
{"fecha":"2016-11-05","serie":"Alsea *","valor":18.6},
{"fecha":"2016-11-06","serie":"Alsea *","valor":19.4},
{"fecha":"2016-11-07","serie":"Alsea *","valor":20.4},
{"fecha":"2016-11-08","serie":"Alsea *","valor":18.2},
{"fecha":"2016-11-09","serie":"Alsea *","valor":16.7}
]},
"mark": {"type": "line", "strokeWidth": 2},
"encoding": {
"x": {"field": "fecha", "type": "temporal",
 "scale": {"type": "utc", "domain": [{"year": 2015, "month": 11, "date": 17, "utc": true}, {"year": 2016, "month": 11, "date": 12, "utc": true}]},
 "axis": {"orient": "bottom",
  "values": [{"year": 2015, "month": 11, "date": 17, "utc": true}, {"year": 2016, "month": 1, "date": 7, "utc": true}, {"year": 2016, "month": 2, "date": 26, "utc": true}, {"year": 2016, "month": 4, "date": 20, "utc": true}, {"year": 2016, "month": 6, "date": 8, "utc": true}, {"year": 2016, "month": 7, "date": 27, "utc": true}, {"year": 2016, "month": 9, "date": 14, "utc": true}, {"year": 2016, "month": 11, "date": 4, "utc": true}],
  "labelExpr": "utcdate(datum.value) + ' ' + ['ene','feb','mar','abr','may','jun','jul','ago','sep','oct','nov','dic'][utcmonth(datum.value)] + ' ' + substring(toString(utcyear(datum.value)), 2)",
  "domain": false, "ticks": false, "grid": false, "labelFlush": false, "labelOverlap": false,
  "labelPadding": 8, "labelFont": "DejaVu Sans Condensed, Liberation Sans, sans-serif", "labelFontSize": 8.5, "labelColor": "#666666",
  "title": "Fuente: Bloomberg", "titleFont": "Liberation Sans, sans-serif", "titleFontSize": 12, "titleFontStyle": "italic", "titleFontWeight": "normal", "titleColor": "#333333",
  "titleAlign": "left", "titleAnchor": "start", "titleX": -31, "titleY": 46, "titleBaseline": "alphabetic"}},
"y": {"field": "valor", "type": "quantitative",
 "scale": {"domain": [-10, 28], "nice": false, "zero": false},
 "axis": {"orient": "left", "values": [-10, -5, 0, 5, 10, 15, 20, 25], "labelExpr": "datum.value + '%'",
  "grid": false, "domainColor": "#8a8a8a", "tickColor": "#333333", "tickSize": 4, "labelPadding": 2,
  "labelFont": "DejaVu Sans Condensed, Liberation Sans, sans-serif", "labelFontSize": 8.5, "labelColor": "#777777", "title": null}},
"color": {"field": "serie", "type": "nominal",
 "scale": {"domain": ["Índice IPyC BMV", "Alsea *"], "range": ["#c5d20f", "#2f3a45"]},
 "legend": {"orient": "none", "legendX": 84, "legendY": 317, "direction": "horizontal", "title": null,
  "symbolType": "stroke", "symbolSize": 625, "symbolStrokeWidth": 3, "labelOffset": 2,
  "labelFont": "DejaVu Sans Condensed, Liberation Sans, sans-serif", "labelFontSize": 8, "labelColor": "#555555", "columnPadding": 262}}
}
},
{
"data": {"values": [{}]},
"mark": {"type": "rule", "color": "#62a8b7", "strokeWidth": 1.5},
"encoding": {
"y": {"datum": 0, "type": "quantitative",
 "scale": {"domain": [-10, 28], "nice": false, "zero": false},
 "axis": {"orient": "right", "values": [-10, -5, 0, 5, 10, 15, 20, 25], "labelExpr": "datum.value + '%'",
  "grid": false, "domainColor": "#8a8a8a", "tickColor": "#333333", "tickSize": 4, "labelPadding": 3,
  "labelFont": "DejaVu Sans Condensed, Liberation Sans, sans-serif", "labelFontSize": 8.5, "labelColor": "#777777", "title": null}},
"x": {"datum": {"year": 2015, "month": 11, "date": 17, "utc": true}, "type": "temporal",
 "scale": {"type": "utc", "domain": [{"year": 2015, "month": 11, "date": 17, "utc": true}, {"year": 2016, "month": 11, "date": 12, "utc": true}]},
 "axis": {"orient": "top", "offset": -219,
  "values": [{"year": 2015, "month": 11, "date": 17, "utc": true}, {"year": 2016, "month": 1, "date": 7, "utc": true}, {"year": 2016, "month": 2, "date": 26, "utc": true}, {"year": 2016, "month": 4, "date": 20, "utc": true}, {"year": 2016, "month": 6, "date": 8, "utc": true}, {"year": 2016, "month": 7, "date": 27, "utc": true}, {"year": 2016, "month": 9, "date": 14, "utc": true}, {"year": 2016, "month": 11, "date": 4, "utc": true}],
  "labels": false, "domain": false, "grid": false, "ticks": true, "tickSize": 5, "tickColor": "#333333", "title": null}},
"x2": {"datum": {"year": 2016, "month": 11, "date": 12, "utc": true}}
}
}
],
"resolve": {"axis": {"x": "independent", "y": "independent"}}
}
